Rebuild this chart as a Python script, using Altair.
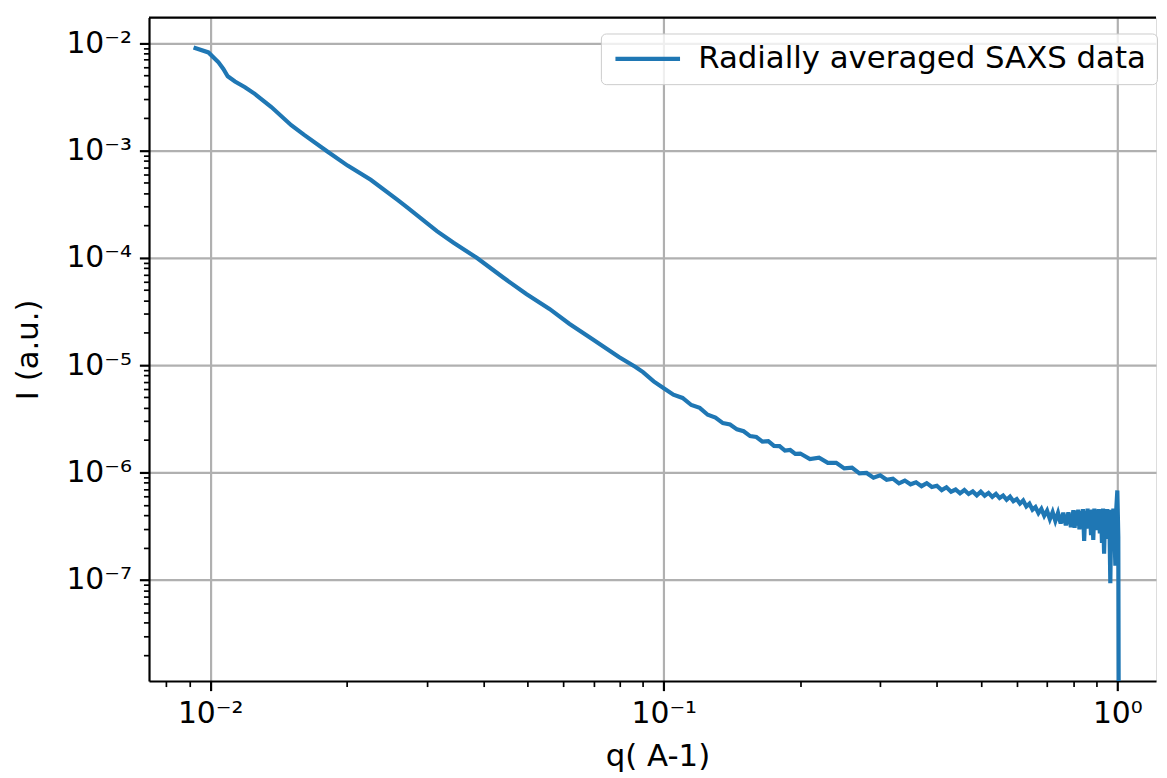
import altair as alt
import pandas as pd

# ---- data ----
series_name = "Radially averaged SAXS data"

q_low = [0.00919, 0.00991, 0.01043, 0.01069, 0.01093, 0.01134, 0.01193, 0.01254,
         0.01364, 0.01509, 0.01614, 0.01816, 0.02009, 0.02259, 0.02584, 0.02718,
         0.03161, 0.03440, 0.03869, 0.04426, 0.04977, 0.05598, 0.06189, 0.06966,
         0.07964, 0.08666]
I_low = [9.12e-3, 8.20e-3, 6.63e-3, 5.75e-3, 4.92e-3, 4.39e-3, 3.89e-3, 3.37e-3,
         2.54e-3, 1.72e-3, 1.39e-3, 9.74e-4, 7.23e-4, 5.33e-4, 3.48e-4, 2.95e-4,
         1.77e-4, 1.38e-4, 1.00e-4, 6.55e-5, 4.60e-5, 3.34e-5, 2.43e-5, 1.74e-5,
         1.19e-5, 9.62e-6]

q_mid1 = [0.090, 0.095, 0.100, 0.105, 0.110, 0.115, 0.120, 0.125, 0.130, 0.135,
          0.140, 0.145, 0.150, 0.155, 0.160, 0.165, 0.170, 0.175, 0.180, 0.185,
          0.190, 0.195]
I_mid1 = [8.60e-6, 7.05e-6, 6.10e-6, 5.30e-6, 4.95e-6, 4.25e-6, 4.00e-6, 3.45e-6,
          3.25e-6, 2.88e-6, 2.80e-6, 2.52e-6, 2.42e-6, 2.18e-6, 2.14e-6, 1.94e-6,
          1.96e-6, 1.77e-6, 1.76e-6, 1.60e-6, 1.62e-6, 1.49e-6]

q_mid2 = [0.20, 0.21, 0.22, 0.23, 0.24, 0.25, 0.26, 0.27, 0.28, 0.29,
          0.30, 0.31, 0.32, 0.33, 0.34, 0.35, 0.36, 0.37, 0.38, 0.39,
          0.40, 0.41, 0.42, 0.43, 0.44, 0.45, 0.46, 0.47, 0.48, 0.49,
          0.50, 0.51, 0.52, 0.53, 0.54, 0.55, 0.56, 0.57, 0.58, 0.59,
          0.60, 0.61, 0.62, 0.63, 0.64, 0.65, 0.66, 0.67, 0.68, 0.69,
          0.70, 0.71, 0.72, 0.73, 0.74, 0.75, 0.76, 0.77, 0.78, 0.79]
I_mid2 = [1.50e-6, 1.33e-6, 1.37e-6, 1.23e-6, 1.23e-6, 1.09e-6, 1.11e-6, 9.80e-7, 9.90e-7, 8.95e-7,
          9.40e-7, 8.55e-7, 8.75e-7, 7.92e-7, 8.40e-7, 7.75e-7, 8.08e-7, 7.45e-7, 7.95e-7, 7.32e-7,
          7.52e-7, 6.85e-7, 7.28e-7, 6.62e-7, 6.93e-7, 6.38e-7, 6.85e-7, 6.30e-7, 6.66e-7, 6.12e-7,
          6.62e-7, 6.08e-7, 6.45e-7, 5.92e-7, 6.32e-7, 5.78e-7, 6.10e-7, 5.57e-7, 5.95e-7, 5.40e-7,
          5.65e-7, 5.12e-7, 5.48e-7, 4.82e-7, 5.12e-7, 4.50e-7, 4.76e-7, 4.18e-7, 4.58e-7, 3.95e-7,
          4.40e-7, 3.67e-7, 4.27e-7, 3.53e-7, 4.20e-7, 3.35e-7, 4.21e-7, 3.21e-7, 4.25e-7, 3.10e-7]

q_high = [0.800, 0.805, 0.810, 0.815, 0.820, 0.825, 0.830, 0.835, 0.840, 0.845,
          0.850, 0.855, 0.860, 0.865, 0.870, 0.875, 0.880, 0.885, 0.890, 0.895,
          0.900, 0.905, 0.910, 0.915, 0.920, 0.925, 0.930, 0.935, 0.940, 0.945,
          0.950, 0.955, 0.960, 0.965, 0.970, 0.975, 0.980, 0.985, 0.990, 0.995,
          1.000, 1.005, 1.008]
I_high = [4.45e-7, 3.05e-7, 4.40e-7, 3.20e-7, 4.50e-7, 2.95e-7, 4.35e-7, 3.10e-7, 4.55e-7, 2.30e-7,
          4.40e-7, 3.00e-7, 4.60e-7, 3.15e-7, 4.45e-7, 2.60e-7, 4.50e-7, 2.35e-7, 4.60e-7, 3.10e-7,
          4.40e-7, 2.90e-7, 4.55e-7, 2.70e-7, 4.50e-7, 2.20e-7, 4.60e-7, 1.75e-7, 4.40e-7, 2.80e-7,
          4.55e-7, 2.40e-7, 4.20e-7, 9.3e-8, 4.50e-7, 2.60e-7, 4.60e-7, 3.00e-7, 1.35e-7, 4.70e-7,
          6.80e-7, 2.50e-7, 1.0e-9]

# tick positions (majors labelled, minors unlabelled)
x_ticks = [0.008, 0.009,
           0.01, 0.02, 0.03, 0.04, 0.05, 0.06, 0.07, 0.08, 0.09,
           0.1, 0.2, 0.3, 0.4, 0.5, 0.6, 0.7, 0.8, 0.9, 1.0]
y_ticks = [2e-8, 3e-8, 4e-8, 5e-8, 6e-8, 7e-8, 8e-8, 9e-8,
           1e-7, 2e-7, 3e-7, 4e-7, 5e-7, 6e-7, 7e-7, 8e-7, 9e-7,
           1e-6, 2e-6, 3e-6, 4e-6, 5e-6, 6e-6, 7e-6, 8e-6, 9e-6,
           1e-5, 2e-5, 3e-5, 4e-5, 5e-5, 6e-5, 7e-5, 8e-5, 9e-5,
           1e-4, 2e-4, 3e-4, 4e-4, 5e-4, 6e-4, 7e-4, 8e-4, 9e-4,
           1e-3, 2e-3, 3e-3, 4e-3, 5e-3, 6e-3, 7e-3, 8e-3, 9e-3,
           1e-2]

x_domain = [0.00733, 1.217]
y_domain = [1.14e-8, 0.0173]

q_all = q_low + q_mid1 + q_mid2 + q_high
I_all = I_low + I_mid1 + I_mid2 + I_high
df = pd.DataFrame({"q": q_all, "I": I_all, "series": [series_name] * len(q_all)})

W, H = 1014, 668
FONT = "DejaVu Sans"
FS = 30
FS_TEXT = 31

is_major = "abs(log(datum.value)/LN10 - round(log(datum.value)/LN10)) < 1e-6"
expo = "round(log(datum.value)/LN10)"
label_expr = (f"{is_major} ? '10' + ({expo} < 0 ? '\u207b' : '') + "
              f"substring('\u2070\u00b9\u00b2\u00b3\u2074\u2075\u2076\u2077\u2078\u2079', abs({expo}), abs({expo}) + 1) : ''")


def make_axis(values, **kw):
    return alt.Axis(
        values=values, labelExpr=label_expr, grid=True,
        gridColor="#b0b0b0", gridWidth=2.2,
        gridOpacity={"condition": {"test": is_major, "value": 1}, "value": 0},
        tickSize={"condition": {"test": is_major, "value": 9.7}, "value": 5.6},
        tickWidth={"condition": {"test": is_major, "value": 2.2}, "value": 1.7},
        tickColor="black", domainColor="black", domainWidth=2.2,
        labelFontSize=FS, labelColor="black", labelPadding=8, labelFont=FONT,
        labelOverlap=False, labelFlush=False,
        titleFontSize=FS_TEXT, titleFontWeight="normal", titleColor="black", titleFont=FONT,
        **kw)


line = alt.Chart(df).mark_line(strokeWidth=4.2, clip=True).encode(
    x=alt.X("q:Q", scale=alt.Scale(type="log", domain=x_domain, nice=False),
            axis=make_axis(x_ticks, title="q( A-1)", titleX=512, titleY=85,
                           titleAlign="center", titleBaseline="alphabetic")),
    y=alt.Y("I:Q", scale=alt.Scale(type="log", domain=y_domain, nice=False),
            axis=make_axis(y_ticks, title="I (a.u.)", titleX=-121, titleY=334,
                           titleAlign="center", titleBaseline="middle", titleAngle=270)),
    color=alt.Color("series:N",
                    scale=alt.Scale(domain=[series_name], range=["#1f77b4"]),
                    legend=alt.Legend(title=None, orient="none", legendX=455, legendY=16,
                                      symbolType="M-1,0H5", symbolSize=470,
                                      symbolStrokeWidth=4.2, labelFontSize=FS_TEXT,
                                      labelFont=FONT, labelColor="black", labelOffset=57,
                                      labelLimit=700, padding=10, strokeColor="#cccccc",
                                      fillColor="rgba(255,255,255,0.8)", cornerRadius=5)),
)

top_spine = alt.Chart(pd.DataFrame({"k": [0]})).mark_rule(color="black", strokeWidth=2.2).encode(
    x=alt.value(0), x2=alt.value(W), y=alt.value(0))

chart = alt.layer(line, top_spine).properties(
    width=W, height=H,
    padding={"left": 142, "top": 7, "right": 3, "bottom": 95},
    autosize=alt.AutoSizeParams(type="none"),
).configure_view(stroke=None, strokeOpacity=0, strokeWidth=0).configure(font=FONT)

chart.save("out.html", embed_options={"renderer": "svg", "actions": False})
